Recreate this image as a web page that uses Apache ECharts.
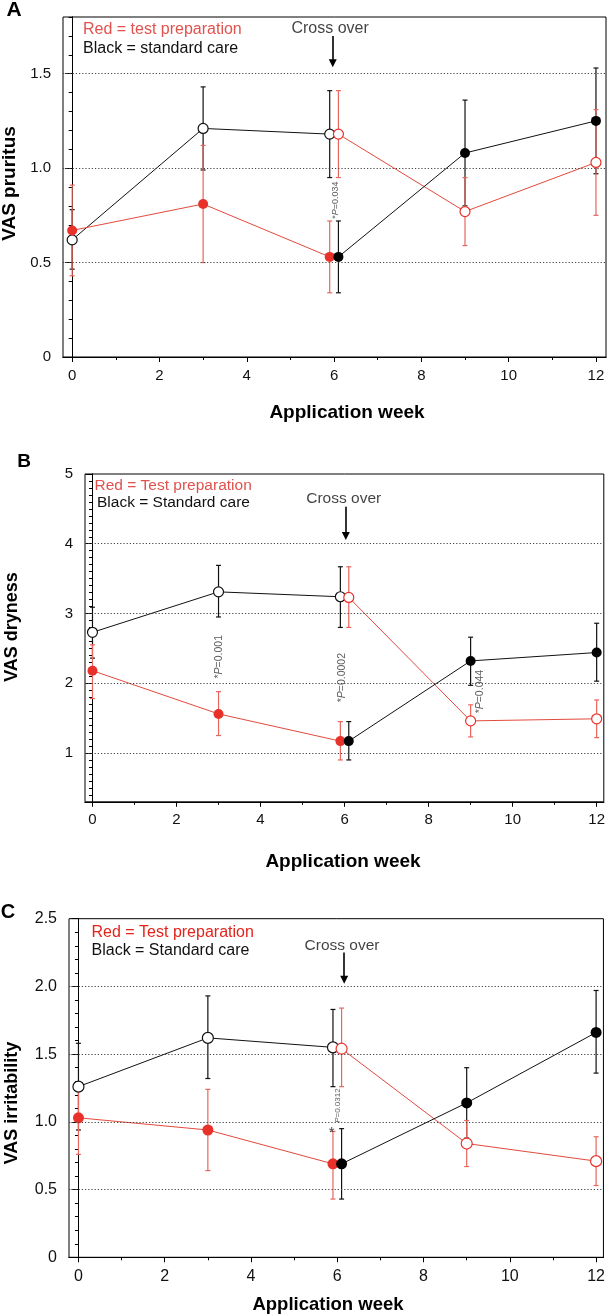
<!DOCTYPE html>
<html lang="en">
<head>
    <meta charset="UTF-8">
    <title>VAS crossover</title>
    <script src="https://cdn.jsdelivr.net/npm/echarts@6/dist/echarts.min.js"></script>
    <style>
        body { margin: 0; padding: 0; background: #fff; }
        #chart { width: 608px; height: 1315px; }
    </style>
</head>
<body>
    <div id="chart"></div>
    <script>
        // weeks: phase 1 = 0, 3, 5.9 ; phase 2 = 6.1, 9, 12 (6 is split so the two dots sit side by side)
        var weeks = [0, 3, 5.9, 6.1, 9, 12];
        var xTickMajor = [0, 2, 4, 6, 8, 10, 12];
        var xTickMinor = [1, 3, 5, 7, 9, 11];

        // A - VAS pruritus
        var redMeanA = [0.67, 0.81, 0.53, 1.18, 0.77, 1.03];
        var redLowA = [0.43, 0.50, 0.34, 0.95, 0.59, 0.75];
        var redHighA = [0.91, 1.12, 0.72, 1.41, 0.95, 1.31];
        var blackMeanA = [0.62, 1.21, 1.18, 0.53, 1.08, 1.25];
        var blackLowA = [0.465, 0.99, 0.95, 0.34, 0.80, 0.97];
        var blackHighA = [0.78, 1.43, 1.41, 0.72, 1.36, 1.53];
        var yLabelsA = [0, 0.5, 1.0, 1.5];
        var gridLinesA = [0.5, 1.0, 1.5];

        // B - VAS dryness
        var redMeanB = [2.18, 1.56, 1.17, 3.23, 1.46, 1.49];
        var redLowB = [1.78, 1.25, 0.90, 2.80, 1.23, 1.22];
        var redHighB = [2.55, 1.88, 1.45, 3.67, 1.69, 1.76];
        var blackMeanB = [2.73, 3.31, 3.24, 1.17, 2.32, 2.44];
        var blackLowB = [2.36, 2.95, 2.80, 0.90, 1.97, 2.03];
        var blackHighB = [3.09, 3.69, 3.67, 1.45, 2.66, 2.86];
        var yLabelsB = [1, 2, 3, 4, 5];
        var gridLinesB = [1, 2, 3, 4];

        // C - VAS irritability
        var redMeanC = [1.03, 0.94, 0.69, 1.54, 0.84, 0.71];
        var redLowC = [0.76, 0.64, 0.43, 1.26, 0.67, 0.53];
        var redHighC = [1.29, 1.24, 0.93, 1.84, 1.01, 0.89];
        var blackMeanC = [1.26, 1.62, 1.55, 0.69, 1.14, 1.66];
        var blackLowC = [0.94, 1.32, 1.26, 0.43, 0.88, 1.36];
        var blackHighC = [1.58, 1.93, 1.83, 0.95, 1.40, 1.97];
        var yLabelsC = [0, 0.5, 1.0, 1.5, 2.0, 2.5];
        var gridLinesC = [0.5, 1.0, 1.5, 2.0];

        // significance notes [week, value, text]
        var pNotesA = [[6.04, 0.83, '*{i|P}=0.034']];
        var pNotesB = [[3.01, 2.38, '*{i|P}=0.001'], [5.94, 2.08, '*{i|P}=0.0002'], [9.22, 1.88, '*{i|P}=0.044']];
        var pNotesC = [[6.01, 1.12, '{i|P}=0.0312']];
        var starC = [[5.87, 0.92, '*']];

        // cross over label [week, value] and arrow [week, from, to]
        var crossA = [5.91, 1.74], arrowA = [5.97, 1.70, 1.555];
        var crossB = [5.98, 4.64], arrowB = [6.03, 4.53, 4.11];
        var crossC = [6.11, 2.30], arrowC = [6.16, 2.25, 2.05];

        var FONT = '"Liberation Sans", Arial, Helvetica, sans-serif';
        var RED_LINE = '#e34a3e';
        var RED_DOT = '#e8312a';
        var RED_BAR = '#e8665e';

        var fmtDec = function (v) { return v === 0 ? '0' : v.toFixed(1); };
        var fmtInt = function (v) { return String(v); };

        var panels = [
            {
                grid: { left: 63, top: 17, width: 543, height: 340 },
                xr: [-0.21, 12.23], yr: [0, 1.8], yLabels: yLabelsA, yMajor: yLabelsA, fmt: fmtDec,
                lines: gridLinesA, red: [redMeanA, redLowA, redHighA], black: [blackMeanA, blackLowA, blackHighA],
                notes: pNotesA, noteSize: 9, cross: crossA, arrow: arrowA, crossSize: 16, tickFont: 15, dot: 10
            },
            {
                grid: { left: 85, top: 474, width: 521.5, height: 327.8 },
                xr: [-0.178, 12.17], yr: [0.3, 5], yLabels: yLabelsB, yMajor: [0.3].concat(yLabelsB), fmt: fmtInt,
                lines: gridLinesB, red: [redMeanB, redLowB, redHighB], black: [blackMeanB, blackLowB, blackHighB],
                notes: pNotesB, noteSize: 10.5, cross: crossB, arrow: arrowB, crossSize: 15.5, tickFont: 15, dot: 10
            },
            {
                grid: { left: 69, top: 918.7, width: 538, height: 338.6 },
                xr: [-0.219, 12.17], yr: [0, 2.5], yLabels: yLabelsC, yMajor: yLabelsC, fmt: fmtDec,
                lines: gridLinesC, red: [redMeanC, redLowC, redHighC], black: [blackMeanC, blackLowC, blackHighC],
                notes: pNotesC, noteSize: 8, cross: crossC, arrow: arrowC, crossSize: 15.5, tickFont: 16, dot: 11
            }
        ];

        function minorTicks(lo, hi) {
            var out = [];
            for (var k = Math.round(lo * 10); k <= Math.round(hi * 10); k++) out.push(k / 10);
            return out;
        }

        function errBars(xs, lo, hi, color, xi, yi) {
            return {
                type: 'custom', xAxisIndex: xi, yAxisIndex: yi, z: 2, silent: true,
                data: xs.map(function (x, i) { return [x, lo[i], hi[i]]; }),
                encode: { x: 0, y: [1, 2] },
                renderItem: function (params, api) {
                    var top = api.coord([api.value(0), api.value(2)]);
                    var bot = api.coord([api.value(0), api.value(1)]);
                    var w = 2.5;
                    var st = { stroke: color, lineWidth: 1.2 };
                    return {
                        type: 'group', children: [
                            { type: 'line', shape: { x1: top[0], y1: top[1], x2: bot[0], y2: bot[1] }, style: st },
                            { type: 'line', shape: { x1: top[0] - w, y1: top[1], x2: top[0] + w, y2: top[1] }, style: st },
                            { type: 'line', shape: { x1: bot[0] - w, y1: bot[1], x2: bot[0] + w, y2: bot[1] }, style: st }
                        ]
                    };
                }
            };
        }

        function meanLine(xs, ys, lineColor, dotColor, open, size, xi, yi) {
            return {
                type: 'line', xAxisIndex: xi, yAxisIndex: yi, z: 3, silent: true,
                data: xs.map(function (x, i) { return [x, ys[i]]; }),
                symbol: 'circle', symbolSize: size, showSymbol: true,
                lineStyle: { color: lineColor, width: 1 },
                itemStyle: open ? { color: '#fff', borderColor: dotColor, borderWidth: 1.2 } : { color: dotColor, borderWidth: 0 }
            };
        }

        var grids = [], xAxes = [], yAxes = [], series = [];

        panels.forEach(function (p, k) {
            grids.push(Object.assign({ show: true, borderColor: '#000', borderWidth: 1 }, p.grid));
            var xi = 2 * k, yi = 2 * k;
            var axisLine = { show: true, lineStyle: { color: '#000', width: 1 } };

            xAxes.push({
                type: 'value', gridIndex: k, min: p.xr[0], max: p.xr[1], position: 'bottom',
                axisLine: axisLine, splitLine: { show: false },
                axisTick: { show: true, length: 5, customValues: xTickMajor, lineStyle: { color: '#000' } },
                axisLabel: { customValues: xTickMajor, margin: 11, fontSize: p.tickFont, color: '#111', fontFamily: FONT }
            });
            xAxes.push({
                type: 'value', gridIndex: k, min: p.xr[0], max: p.xr[1], position: 'bottom',
                axisLine: axisLine, splitLine: { show: false }, axisLabel: { show: false },
                axisTick: { show: true, length: 3, customValues: xTickMinor, lineStyle: { color: '#000' } }
            });
            yAxes.push({
                type: 'value', gridIndex: k, min: p.yr[0], max: p.yr[1], position: 'left',
                axisLine: axisLine, splitLine: { show: false },
                axisTick: { show: true, length: 7, customValues: p.yMajor, lineStyle: { color: '#000' } },
                axisLabel: { customValues: p.yLabels, margin: 12, fontSize: p.tickFont, color: '#111', fontFamily: FONT, formatter: p.fmt }
            });
            yAxes.push({
                type: 'value', gridIndex: k, min: p.yr[0], max: p.yr[1], position: 'left',
                axisLine: axisLine, splitLine: { show: false }, axisLabel: { show: false },
                axisTick: { show: true, length: 3.5, customValues: minorTicks(p.yr[0], p.yr[1]), lineStyle: { color: '#000' } }
            });

            // dotted reference lines
            series.push({
                type: 'line', xAxisIndex: xi, yAxisIndex: yi, z: 1, data: [], silent: true,
                markLine: {
                    silent: true, symbol: 'none', label: { show: false }, animation: false,
                    lineStyle: { type: [1.2, 2], color: '#444', width: 1 },
                    data: p.lines.map(function (v) { return { yAxis: v }; })
                }
            });

            var r = p.red, b = p.black;
            series.push(errBars(weeks, b[1], b[2], '#111', xi, yi));
            series.push(errBars(weeks, r[1], r[2], RED_BAR, xi, yi));
            series.push(meanLine(weeks.slice(0, 3), b[0].slice(0, 3), '#111', '#111', true, p.dot, xi, yi));
            series.push(meanLine(weeks.slice(0, 3), r[0].slice(0, 3), RED_LINE, RED_DOT, false, p.dot, xi, yi));
            series.push(meanLine(weeks.slice(3), r[0].slice(3), RED_LINE, RED_DOT, true, p.dot, xi, yi));
            series.push(meanLine(weeks.slice(3), b[0].slice(3), '#111', '#000', false, p.dot, xi, yi));

            // notes: p-values, cross over label and arrow
            var noteData = p.notes.map(function (n) {
                return {
                    value: [n[0], n[1]],
                    label: {
                        show: true, position: 'inside', rotate: 90, color: '#333', fontFamily: FONT, fontSize: p.noteSize,
                        formatter: function () { return n[2]; },
                        rich: { i: { fontStyle: 'italic', fontSize: p.noteSize, color: '#333', fontFamily: FONT } }
                    }
                };
            });
            noteData.push({
                value: p.cross,
                label: { show: true, position: 'inside', color: '#111', fontFamily: FONT, fontSize: p.crossSize, formatter: 'Cross over' }
            });
            if (k === 2) {
                starC.forEach(function (s) {
                    noteData.push({
                        value: [s[0], s[1]],
                        label: { show: true, position: 'inside', color: '#111', fontFamily: FONT, fontSize: 15, formatter: s[2] }
                    });
                });
            }
            series.push({
                type: 'scatter', xAxisIndex: xi, yAxisIndex: yi, z: 4, silent: true,
                symbolSize: 1, itemStyle: { color: 'rgba(0,0,0,0)' },
                data: noteData,
                markLine: {
                    silent: true, animation: false, symbol: ['none', 'triangle'], symbolSize: 8,
                    label: { show: false },
                    lineStyle: { type: 'solid', color: '#000', width: 1.6 },
                    data: [[{ coord: [p.arrow[0], p.arrow[1]] }, { coord: [p.arrow[0], p.arrow[2]] }]]
                }
            });
        });

        function txt(s, x, y, size, bold, color, rot, align) {
            return {
                type: 'text', x: x, y: y, rotation: rot || 0, silent: true,
                style: {
                    text: s, fontSize: size, fontWeight: bold ? 'bold' : 'normal', fontFamily: FONT,
                    fill: color || '#000', align: align || 'center', verticalAlign: 'middle'
                }
            };
        }
        var R90 = Math.PI / 2;

        var graphics = [
            txt('A', 14, 10, 21, true),
            txt('Red = test preparation', 83, 29.5, 16, false, '#e0524e', 0, 'left'),
            txt('Black = standard care', 83, 49, 16, false, '#111', 0, 'left'),
            txt('VAS pruritus', 10, 183.5, 19, true, '#000', R90),
            txt('Application week', 347, 413, 19, true),

            txt('B', 24, 462, 19, true),
            txt('Red = Test preparation', 94.5, 486, 15.5, false, '#e0524e', 0, 'left'),
            txt('Black = Standard care', 97, 502.5, 15.5, false, '#111', 0, 'left'),
            txt('VAS dryness', 12, 627, 18, true, '#000', R90),
            txt('Application week', 343, 862, 19, true),

            txt('C', 8, 912, 20, true),
            txt('Red = Test preparation', 91.5, 933, 16, false, '#e3241c', 0, 'left'),
            txt('Black = Standard care', 91.5, 951, 16, false, '#111', 0, 'left'),
            txt('VAS irritability', 12, 1103, 18, true, '#000', R90),
            txt('Application week', 328, 1305, 18.5, true)
        ];

        var chart = echarts.init(document.getElementById('chart'));
        chart.setOption({
            animation: false,
            backgroundColor: '#fff',
            textStyle: { fontFamily: FONT },
            grid: grids,
            xAxis: xAxes,
            yAxis: yAxes,
            series: series,
            graphic: graphics
        });
    </script>
</body>
</html>
